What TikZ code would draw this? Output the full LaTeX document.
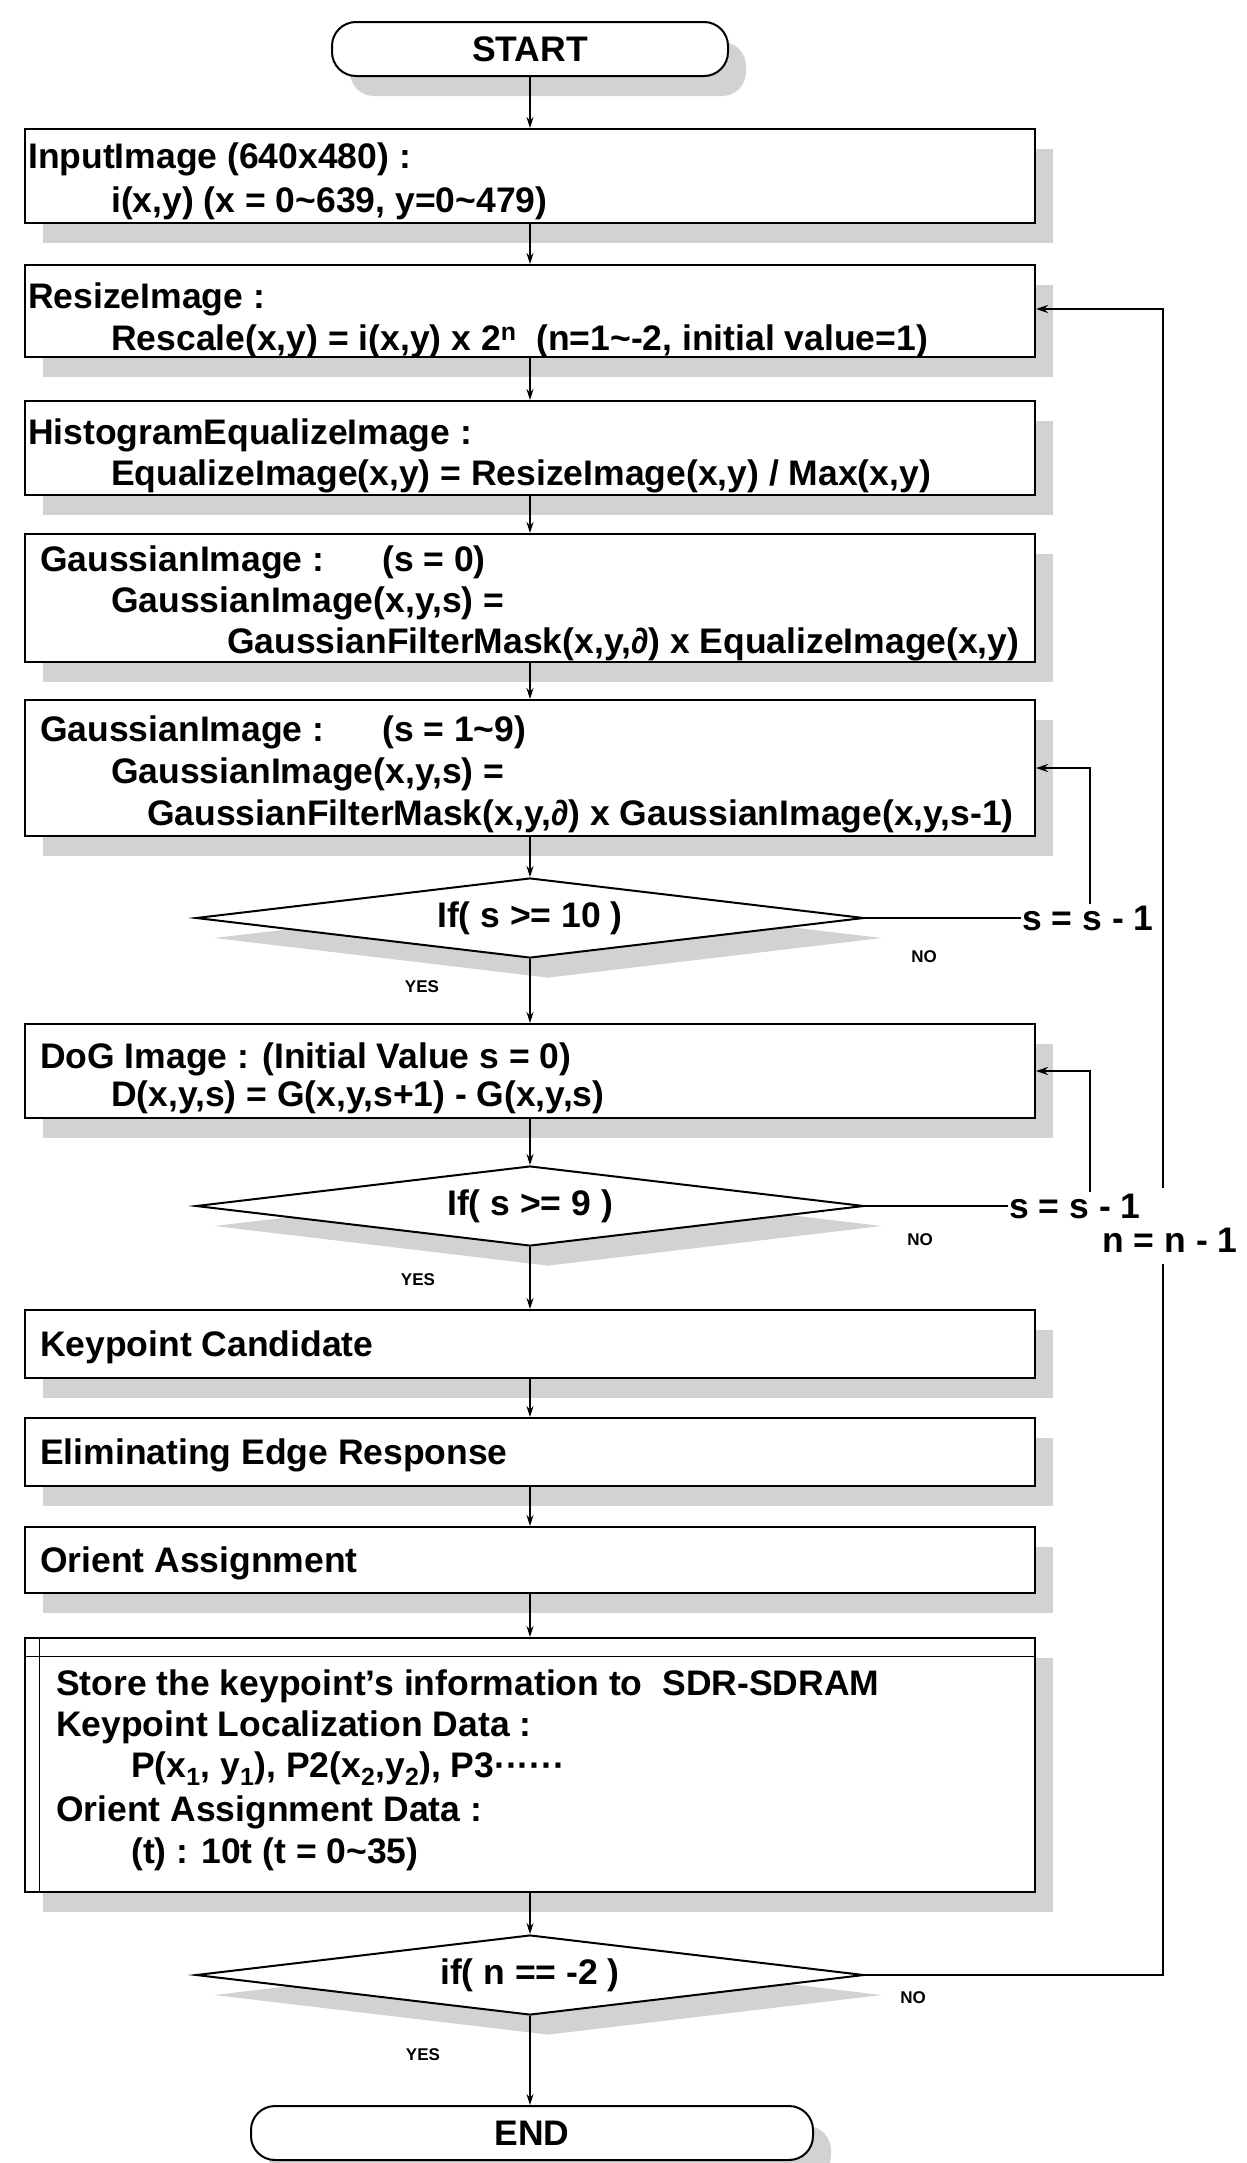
\documentclass[tikz,border=0pt]{standalone}
\usepackage{fontspec}
\setmainfont{Liberation Sans}
\usetikzlibrary{shapes.geometric,arrows.meta,shadows}
\newcommand{\tld}{\char"007E\relax}
\begin{document}
\begin{tikzpicture}[x=1pt,y=-1pt,
  font=\fontsize{35.5}{42}\selectfont\bfseries,
  shad/.style={general shadow={fill=gray!35, shadow xshift=18pt, shadow yshift=-20pt}},
  box/.style={draw, line width=2pt, fill=white, minimum width=1010pt, inner sep=0pt, shad},
  term/.style={draw, line width=2pt, fill=white, rounded corners=24pt, inner sep=0pt, shad},
  dec/.style={diamond, draw, line width=2pt, fill=white, minimum width=668pt, minimum height=80pt, aspect=8.4, inner sep=0pt, shad},
  txt/.style={anchor=base west, inner sep=0pt},
  lab/.style={font=\fontsize{17}{20}\selectfont\bfseries, inner sep=0pt},
  loopl/.style={line width=1.8pt},
  arr/.style={line width=1.3pt, -{Stealth[length=11pt,width=7pt]}},
  looparr/.style={line width=1.8pt, -{Stealth[length=12pt,width=8pt]}},
]
\useasboundingbox (0,0) rectangle (1247,2163);
\fill[white] (0,0) rectangle (1247,2163);

% terminals and boxes
\node[term, minimum width=396pt, minimum height=54pt] (start) at (530,49) {START};

\node[box, minimum height=94pt] (b1) at (530,176) {};
\node[txt] (t1a) at (28,168) {InputImage (640x480) :};
\node[txt] (t1b) at (111,212) {i(x,y) (x = 0\tld639, y=0\tld479)};

\node[box, minimum height=92pt] (b2) at (530,311) {};
\node[txt] (t2a) at (28,308) {ResizeImage :};
\node[txt] (t2b) at (111,350) {Rescale(x,y) = i(x,y) x 2\textsuperscript{n}\ \ (n=1\tld-2, initial value=1)};

\node[box, minimum height=94pt] (b3) at (530,448) {};
\node[txt] (t3a) at (28,444) {HistogramEqualizeImage :};
\node[txt] (t3b) at (111,485) {EqualizeImage(x,y) = ResizeImage(x,y) / Max(x,y)};

\node[box, minimum height=128pt] (b4) at (530,598) {};
\node[txt] (t4a) at (40,571) {GaussianImage :};
\node[txt] (t4s) at (382,571) {(s = 0)};
\node[txt] (t4b) at (111,612) {GaussianImage(x,y,s) =};
\node[txt] (t4c) at (227,653) {GaussianFilterMask(x,y,∂) x EqualizeImage(x,y)};

\node[box, minimum height=136pt] (b5) at (530,768) {};
\node[txt] (t5a) at (40,741) {GaussianImage :};
\node[txt] (t5s) at (382,741) {(s = 1\tld9)};
\node[txt] (t5b) at (111,783) {GaussianImage(x,y,s) =};
\node[txt] (t5c) at (147,825) {GaussianFilterMask(x,y,∂) x GaussianImage(x,y,s-1)};

\node[dec] (d1) at (530,918) {If( s >= 10 )};

\node[box, minimum height=94pt] (b6) at (530,1071) {};
\node[txt] (t6a) at (40,1068) {DoG Image : (Initial Value s = 0)};
\node[txt] (t6b) at (111,1106) {D(x,y,s) = G(x,y,s+1) - G(x,y,s)};

\node[dec] (d2) at (530,1206) {If( s >= 9 )};

\node[box, minimum height=68pt] (b7) at (530,1344) {};
\node[txt] (t7) at (40,1356) {Keypoint Candidate};

\node[box, minimum height=68pt] (b8) at (530,1452) {};
\node[txt] (t8) at (40,1464) {Eliminating Edge Response};

\node[box, minimum height=66pt] (b9) at (530,1560) {};
\node[txt] (t9) at (40,1572) {Orient Assignment};

\node[box, minimum height=254pt] (b10) at (530,1765) {};
\draw[line width=0.8pt] ([yshift=-19pt]b10.north west) -- ([yshift=-19pt]b10.north east);
\draw[line width=0.8pt] ([xshift=15pt]b10.north west) -- ([xshift=15pt]b10.south west);
\node[txt] (t10a) at (56,1695) {Store the keypoint’s information to\ \ SDR-SDRAM};
\node[txt] (t10b) at (56,1736) {Keypoint Localization Data :};
\node[txt] (t10c) at (131,1777) {P(x\textsubscript{1}, y\textsubscript{1}), P2(x\textsubscript{2},y\textsubscript{2}), P3······};
\node[txt] (t10d) at (56,1821) {Orient Assignment Data :};
\node[txt] (t10e) at (131,1863) {(t) : 10t (t = 0\tld35)};

\node[dec] (d3) at (530,1975) {if( n == -2 )};

\node[term, minimum width=562pt, minimum height=54pt] (endn) at (532,2133) {END};

% main flow
\draw[arr] (start.south) -- (b1.north);
\draw[arr] (b1.south) -- (b2.north);
\draw[arr] (b2.south) -- (b3.north);
\draw[arr] (b3.south) -- (b4.north);
\draw[arr] (b4.south) -- (b5.north);
\draw[arr] (b5.south) -- (d1.north);
\draw[arr] (d1.south) -- (b6.north);
\draw[arr] (b6.south) -- (d2.north);
\draw[arr] (d2.south) -- (b7.north);
\draw[arr] (b7.south) -- (b8.north);
\draw[arr] (b8.south) -- (b9.north);
\draw[arr] (b9.south) -- (b10.north);
\draw[arr] (b10.south) -- (d3.north);
\draw[arr] (d3.south) -- (d3.south |- endn.north);

% yes / no labels
\node[lab] (y1) at (422,987) {YES};
\node[lab] (n1) at (924,957) {NO};
\node[lab] (y2) at (418,1280) {YES};
\node[lab] (n2) at (920,1240) {NO};
\node[lab] (y3) at (423,2055) {YES};
\node[lab] (n3) at (913,1998) {NO};

% loops
\node[inner sep=1pt] (s1) at (1088,918) {s = s - 1};
\node[inner sep=1pt] (s2) at (1075,1206) {s = s - 1};
\node[inner sep=1pt] (nn) at (1170,1240) {n = n - 1};

\coordinate (c1) at (1090,768);
\draw[loopl] (d1.east) -- (s1.west);
\draw[looparr] (s1.north -| c1) -- (c1) -- (b5.east);

\coordinate (c2) at (1090,1071);
\draw[loopl] (d2.east) -- (s2.west);
\draw[looparr] (s2.north -| c2) -- (c2) -- (b6.east);

\coordinate (nb) at (1163,1975);
\coordinate (nlo) at (1163,1264);
\coordinate (nhi) at (1163,1188);
\coordinate (nt) at (1163,309);
\draw[loopl] (d3.east) -- (nb) -- (nlo);
\draw[looparr] (nhi) -- (nt) -- (nt -| b2.east);
\end{tikzpicture}
\end{document}
